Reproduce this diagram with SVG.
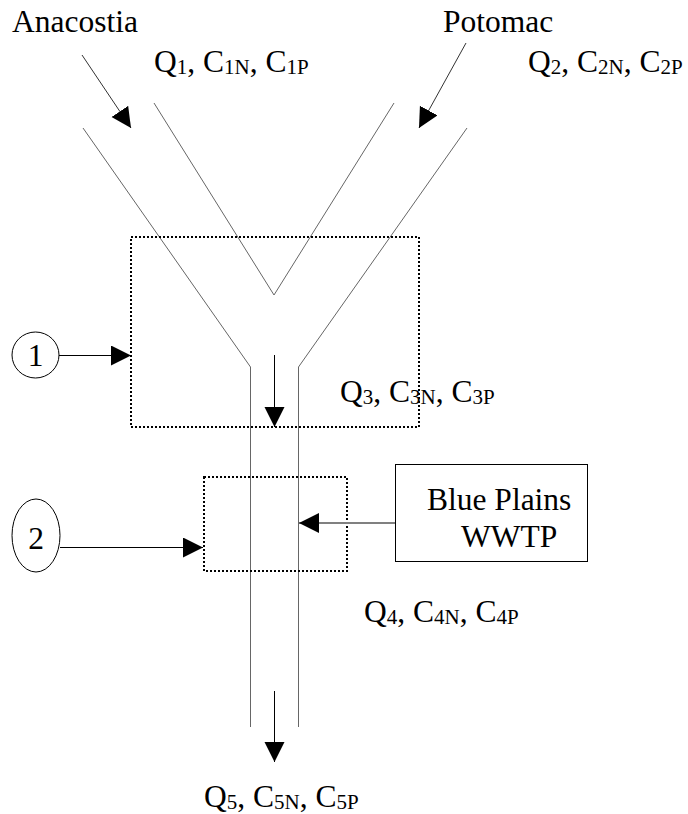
<svg xmlns="http://www.w3.org/2000/svg" width="688" height="814" viewBox="0 0 688 814">
<style>
text{font-family:"Liberation Serif","Times New Roman",serif;font-size:31.5px;fill:#000}
.sub{font-size:21px}
.river{stroke:#666;stroke-width:1;fill:none}
.riverv{stroke:#888;stroke-width:1;fill:none}
.dot{fill:none;stroke:#000;stroke-width:2;stroke-dasharray:2 2}
.conn{stroke:#000;stroke-width:1;fill:none}
.thin{stroke:#333;stroke-width:1;fill:none}
.gray{stroke:#808080;stroke-width:2;fill:none}
.node{fill:#fff;stroke:#000;stroke-width:1}
</style>
<defs>
<marker id="ah" markerUnits="userSpaceOnUse" markerWidth="21" markerHeight="21" refX="20" refY="10" orient="auto" viewBox="0 0 21 21">
<path d="M0,0 L20,10 L0,20 z" fill="#000"/>
</marker>
</defs>
<rect width="688" height="814" fill="#fff"/>

<g id="river">
<polyline class="river" points="83,128 250.5,367 250.5,727"/>
<polyline class="river" points="467,128 298.5,367 298.5,727"/>
<polyline class="river" points="154,103 274,295 394,103"/>
</g>

<g id="box1"><rect class="dot" x="131" y="237" width="288" height="190"/></g>
<g id="box2"><rect class="dot" x="204" y="477" width="143" height="94"/></g>

<g id="anacostia"><text x="12" y="32">Anacostia</text></g>
<g id="potomac"><text x="443" y="32">Potomac</text></g>

<g id="q1"><text x="154" y="72">Q<tspan class="sub" dy="2">1</tspan><tspan dy="-2">, C</tspan><tspan class="sub" dy="2">1N</tspan><tspan dy="-2">, C</tspan><tspan class="sub" dy="2">1P</tspan></text></g>
<g id="q2"><text x="528" y="72">Q<tspan class="sub" dy="2">2</tspan><tspan dy="-2">, C</tspan><tspan class="sub" dy="2">2N</tspan><tspan dy="-2">, C</tspan><tspan class="sub" dy="2">2P</tspan></text></g>
<g id="q3"><text x="340" y="402">Q<tspan class="sub" dy="2">3</tspan><tspan dy="-2">, C</tspan><tspan class="sub" dy="2">3N</tspan><tspan dy="-2">, C</tspan><tspan class="sub" dy="2">3P</tspan></text></g>
<g id="q4"><text x="364" y="622">Q<tspan class="sub" dy="2">4</tspan><tspan dy="-2">, C</tspan><tspan class="sub" dy="2">4N</tspan><tspan dy="-2">, C</tspan><tspan class="sub" dy="2">4P</tspan></text></g>
<g id="q5"><text x="204" y="807">Q<tspan class="sub" dy="2">5</tspan><tspan dy="-2">, C</tspan><tspan class="sub" dy="2">5N</tspan><tspan dy="-2">, C</tspan><tspan class="sub" dy="2">5P</tspan></text></g>

<g id="circle1">
<ellipse class="node" cx="35.5" cy="355" rx="23.5" ry="23"/>
<text x="35.5" y="366" text-anchor="middle">1</text>
</g>
<g id="circle2">
<ellipse class="node" cx="36" cy="535.5" rx="24" ry="36.5"/>
<text x="36" y="549" text-anchor="middle">2</text>
</g>

<g id="blueplains">
<rect class="node" x="395.5" y="464.5" width="192" height="97"/>
<text x="427" y="510">Blue Plains</text>
<text x="461" y="547">WWTP</text>
</g>

<g id="connectors">
<line class="thin" x1="82" y1="55" x2="131" y2="128" marker-end="url(#ah)"/>
<line class="thin" x1="466" y1="43" x2="419" y2="128" marker-end="url(#ah)"/>
<line class="conn" x1="59" y1="355.5" x2="131" y2="355.5" marker-end="url(#ah)"/>
<line class="conn" x1="274.5" y1="355" x2="274.5" y2="427" marker-end="url(#ah)"/>
<line class="conn" x1="60" y1="547.5" x2="203" y2="547.5" marker-end="url(#ah)"/>
<line class="gray" x1="395" y1="523" x2="299" y2="523" marker-end="url(#ah)"/>
<line class="conn" x1="274.5" y1="691" x2="274.5" y2="762" marker-end="url(#ah)"/>
</g>
</svg>
